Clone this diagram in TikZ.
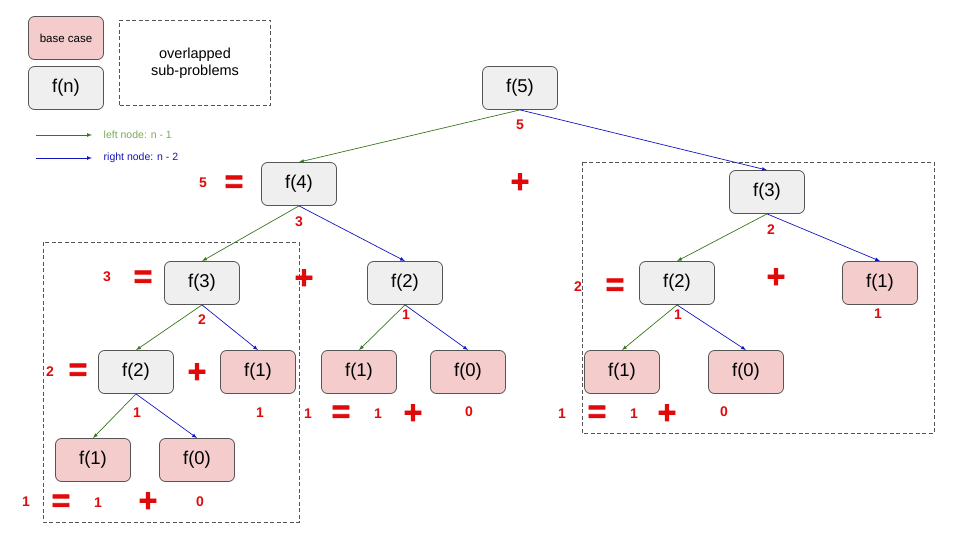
\documentclass[tikz,border=0pt]{standalone}
\usepackage{fontspec}
\setmainfont{Liberation Sans}
\newfontfamily\heavyfont[FakeBold=2.5]{Liberation Sans Bold}
\usepackage{tikz}

\definecolor{callfill}{RGB}{239,239,239}
\definecolor{basefill}{RGB}{244,204,204}
\definecolor{boxline}{RGB}{85,85,85}
\definecolor{leftgreen}{RGB}{56,118,29}
\definecolor{rightblue}{RGB}{20,20,190}
\definecolor{keygreen}{RGB}{120,170,90}
\definecolor{numred}{RGB}{225,10,10}

\begin{document}
\begin{tikzpicture}[x = 1pt, y = -1pt, line width = 0.8pt,
								call/.style = {rectangle, rounded corners = 6pt, draw = boxline,
								fill = callfill, minimum width = 75pt, minimum height = 43pt,
								inner sep = 0pt, font = \fontsize{18.5}{20}\selectfont},
								base/.style = {call, fill = basefill},
								lefte/.style = {draw = leftgreen, line width = 0.7pt, -latex},
								righte/.style = {draw = rightblue, line width = 0.7pt, -latex},
								overlap/.style = {draw = boxline, line width = 0.7pt,
								dash pattern = on 4pt off 2.5pt},
								val/.style = {text = numred, font = \bfseries\fontsize{14}{14}\selectfont},
								op/.style = {text = numred, inner sep = 0pt,
								font = \heavyfont\fontsize{32}{32}\selectfont},
								]
				\useasboundingbox (0,0) rectangle (960,540);

				% key
				\node [base, font = \fontsize{11.5}{12}\selectfont] (k_base) at (66,38) {base case};
				\node [call] (k_call) at (66,88) {f(n)};
				\node [overlap, minimum width = 151pt, minimum height = 85pt, align = center,
				font = \fontsize{14.5}{17}\selectfont] (k_over) at (195,63) {overlapped\\sub-problems};
				\coordinate (k_l1) at (36,135);
				\coordinate (k_l2) at (92,135);
				\coordinate (k_r1) at (36,158);
				\coordinate (k_r2) at (92,158);
				\draw [lefte] (k_l1) -- (k_l2);
				\draw [righte] (k_r1) -- (k_r2);
				\node [anchor = west, text = keygreen, font = \fontsize{10.5}{12}\selectfont] (k_ltxt) at (100,135) {left node: n - 1};
				\node [anchor = west, text = rightblue, font = \fontsize{10.5}{12}\selectfont] (k_rtxt) at (100,158) {right node: n - 2};

				% overlapped sub-problems
				\draw [overlap] (43,242) rectangle (299,522);
				\draw [overlap] (582,162) rectangle (934,433);

				% calls
				\node [call] (n_5) at (520,88) {f(5)};
				\node [call] (n_4) at (299,184) {f(4)};
				\node [call] (n_3a) at (202,283) {f(3)};
				\node [call] (n_2a) at (405,283) {f(2)};
				\node [call] (n_2b) at (136,372) {f(2)};
				\node [base] (n_1b) at (258,372) {f(1)};
				\node [base] (n_1c) at (93,460) {f(1)};
				\node [base] (n_0c) at (197,460) {f(0)};
				\node [base] (n_1d) at (359,372) {f(1)};
				\node [base] (n_0d) at (468,372) {f(0)};
				\node [call] (n_3r) at (767,192) {f(3)};
				\node [call] (n_2r) at (677,283) {f(2)};
				\node [base] (n_1r) at (880,283) {f(1)};
				\node [base] (n_1s) at (622,372) {f(1)};
				\node [base] (n_0s) at (746,372) {f(0)};

				\draw [lefte] (n_5.south) -- (n_4.north);
				\draw [righte] (n_5.south) -- (n_3r.north);
				\draw [lefte] (n_4.south) -- (n_3a.north);
				\draw [righte] (n_4.south) -- (n_2a.north);
				\draw [lefte] (n_3a.south) -- (n_2b.north);
				\draw [righte] (n_3a.south) -- (n_1b.north);
				\draw [lefte] (n_2b.south) -- (n_1c.north);
				\draw [righte] (n_2b.south) -- (n_0c.north);
				\draw [lefte] (n_2a.south) -- (n_1d.north);
				\draw [righte] (n_2a.south) -- (n_0d.north);
				\draw [lefte] (n_3r.south) -- (n_2r.north);
				\draw [righte] (n_3r.south) -- (n_1r.north);
				\draw [lefte] (n_2r.south) -- (n_1s.north);
				\draw [righte] (n_2r.south) -- (n_0s.north);

				% results
				\node [val] (v_5) at (520,125) {5};
				\node [op] (p_5) at (520,183) {+};
				\node [val] (v_4l) at (203,183) {5};
				\node [op] (e_4) at (234,184) {=};
				\node [val] (v_4) at (299,222) {3};
				\node [val] (v_3l) at (107,277) {3};
				\node [op] (e_3) at (143,279) {=};
				\node [op] (p_3) at (304,279) {+};
				\node [val] (v_3) at (202,320) {2};
				\node [val] (v_2a) at (406,315) {1};
				\node [val] (v_2l) at (50,372) {2};
				\node [op] (e_2) at (78,372) {=};
				\node [op] (p_2) at (197,373) {+};
				\node [val] (v_2b) at (137,413) {1};
				\node [val] (v_1b) at (260,413) {1};
				\node [val] (v_2al) at (308,414) {1};
				\node [op] (e_2a) at (341,414) {=};
				\node [val] (v_1d) at (378,414) {1};
				\node [op] (p_2a) at (413,414) {+};
				\node [val] (v_0d) at (469,412) {0};
				\node [val] (v_2bl) at (26,502) {1};
				\node [op] (e_2b) at (61,503) {=};
				\node [val] (v_1c) at (98,503) {1};
				\node [op] (p_2b) at (148,502) {+};
				\node [val] (v_0c) at (200,502) {0};
				\node [val] (v_3r) at (771,230) {2};
				\node [val] (v_3rl) at (578,287) {2};
				\node [op] (e_3r) at (615,287) {=};
				\node [op] (p_3r) at (776,278) {+};
				\node [val] (v_1r) at (878,314) {1};
				\node [val] (v_2r) at (678,315) {1};
				\node [val] (v_2rl) at (562,414) {1};
				\node [op] (e_2r) at (597,414) {=};
				\node [val] (v_1s) at (634,414) {1};
				\node [op] (p_2r) at (667,414) {+};
				\node [val] (v_0s) at (724,412) {0};
			\end{tikzpicture}
\end{document}
